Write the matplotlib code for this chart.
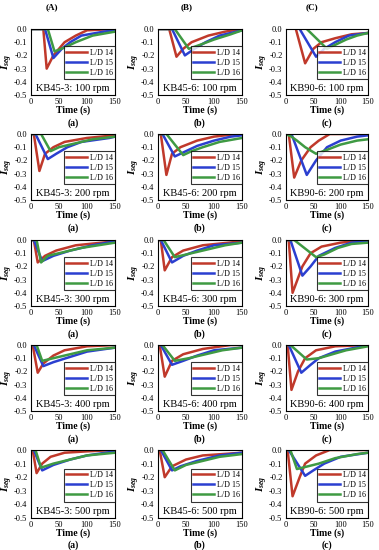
import matplotlib
matplotlib.use('Agg')
import matplotlib.pyplot as plt
from matplotlib.ticker import FormatStrFormatter

plt.rcParams['font.family'] = ['Liberation Serif', 'DejaVu Serif']
plt.rcParams['mathtext.fontset'] = 'custom'
plt.rcParams['mathtext.it'] = 'Liberation Serif:italic:bold'
plt.rcParams['mathtext.rm'] = 'Liberation Serif:bold'

# Данные: ключевые точки (время, I) для L/D 14, 15, 16
labels = ['L/D 14', 'L/D 15', 'L/D 16']
colors = ['#c0392b', '#2b3fd0', '#3f9a43']
mixers = ['KB45-3', 'KB45-6', 'KB90-6']
rpms = [100, 200, 300, 400, 500]

KB45_3_100 = [
    [(0, 0), (22, 0), (28, -0.30), (40, -0.20), (60, -0.10), (80, -0.05), (100, -0.01), (150, 0)],
    [(0, 0), (25, 0), (40, -0.22), (55, -0.15), (70, -0.10), (90, -0.05), (130, -0.02), (150, -0.01)],
    [(0, 0), (30, 0), (42, -0.17), (60, -0.14), (80, -0.10), (110, -0.05), (150, -0.02)],
]
KB45_6_100 = [
    [(0, 0), (20, 0), (33, -0.21), (45, -0.15), (60, -0.10), (90, -0.05), (120, -0.02), (150, 0)],
    [(0, 0), (25, 0), (48, -0.20), (65, -0.15), (85, -0.10), (110, -0.05), (140, -0.02), (150, -0.01)],
    [(0, 0), (30, 0), (55, -0.15), (75, -0.12), (100, -0.08), (130, -0.04), (150, -0.01)],
]
KB90_6_100 = [
    [(18, 0), (35, -0.26), (50, -0.15), (65, -0.10), (90, -0.07), (120, -0.04), (150, -0.03)],
    [(25, 0), (55, -0.21), (70, -0.15), (90, -0.10), (115, -0.05), (150, -0.03)],
    [(38, 0), (75, -0.15), (90, -0.12), (110, -0.08), (130, -0.05), (150, -0.03)],
]
KB45_3_200 = [
    [(0, 0), (5, 0), (15, -0.28), (25, -0.15), (40, -0.10), (60, -0.06), (100, -0.03), (150, -0.01)],
    [(0, 0), (8, 0), (30, -0.19), (45, -0.15), (65, -0.10), (90, -0.06), (140, -0.03), (150, -0.02)],
    [(0, 0), (18, 0), (35, -0.13), (50, -0.10), (80, -0.07), (110, -0.04), (150, -0.02)],
]
KB45_6_200 = [
    [(0, 0), (5, 0), (15, -0.31), (25, -0.15), (40, -0.10), (70, -0.05), (100, -0.02), (140, 0), (150, 0)],
    [(0, 0), (8, 0), (30, -0.17), (50, -0.13), (70, -0.09), (100, -0.05), (130, -0.02), (150, -0.01)],
    [(0, 0), (15, 0), (45, -0.16), (60, -0.13), (80, -0.10), (110, -0.06), (150, -0.03)],
]
KB90_6_200 = [
    [(0, 0), (5, 0), (15, -0.33), (28, -0.20), (45, -0.10), (60, -0.05), (80, 0), (150, 0)],
    [(0, 0), (10, 0), (38, -0.31), (55, -0.20), (75, -0.10), (100, -0.05), (130, -0.02), (150, -0.01)],
    [(0, 0), (10, -0.02), (20, -0.05), (35, -0.10), (55, -0.15), (75, -0.12), (100, -0.08), (130, -0.05), (150, -0.04)],
]
KB45_3_300 = [
    [(0, 0), (5, 0), (12, -0.17), (25, -0.12), (45, -0.08), (80, -0.04), (150, -0.01)],
    [(0, 0), (5, 0), (20, -0.16), (40, -0.12), (70, -0.08), (110, -0.04), (150, -0.01)],
    [(0, 0), (10, 0), (18, -0.17), (30, -0.12), (50, -0.10), (90, -0.06), (150, -0.02)],
]
KB45_6_300 = [
    [(0, 0), (5, 0), (12, -0.23), (25, -0.13), (45, -0.08), (80, -0.04), (150, -0.01)],
    [(0, 0), (5, 0), (25, -0.17), (45, -0.12), (70, -0.08), (100, -0.04), (150, -0.02)],
    [(0, 0), (10, 0), (30, -0.13), (60, -0.10), (90, -0.07), (120, -0.04), (150, -0.02)],
]
KB90_6_300 = [
    [(0, 0), (5, 0), (12, -0.40), (30, -0.20), (45, -0.10), (65, -0.05), (100, -0.02), (150, 0)],
    [(0, 0), (8, 0), (30, -0.27), (45, -0.20), (60, -0.12), (90, -0.06), (120, -0.02), (150, -0.01)],
    [(0, 0), (15, 0), (55, -0.13), (70, -0.11), (95, -0.06), (120, -0.03), (150, -0.02)],
]
KB45_3_400 = [
    [(0, 0), (3, 0), (12, -0.21), (22, -0.14), (40, -0.08), (60, -0.04), (100, -0.01), (150, 0)],
    [(0, 0), (5, 0), (22, -0.16), (40, -0.13), (70, -0.09), (100, -0.05), (150, -0.02)],
    [(0, 0), (10, 0), (20, -0.12), (40, -0.10), (70, -0.07), (100, -0.04), (150, -0.02)],
]
KB45_6_400 = [
    [(0, 0), (3, 0), (12, -0.24), (25, -0.12), (45, -0.07), (80, -0.03), (130, 0), (150, 0)],
    [(0, 0), (5, 0), (25, -0.15), (45, -0.12), (70, -0.08), (100, -0.04), (150, -0.02)],
    [(0, 0), (8, 0), (30, -0.12), (55, -0.10), (85, -0.07), (115, -0.04), (150, -0.02)],
]
KB90_6_400 = [
    [(0, 0), (3, 0), (10, -0.34), (22, -0.20), (35, -0.10), (55, -0.04), (90, -0.01), (150, 0)],
    [(0, 0), (5, 0), (28, -0.21), (45, -0.15), (60, -0.10), (90, -0.05), (140, -0.01), (150, 0)],
    [(0, 0), (8, 0), (38, -0.11), (60, -0.10), (85, -0.07), (110, -0.04), (150, -0.01)],
]
KB45_3_500 = [
    [(0, 0), (3, 0), (10, -0.17), (20, -0.10), (35, -0.05), (60, -0.02), (100, -0.01), (150, 0)],
    [(0, 0), (5, 0), (20, -0.15), (40, -0.11), (70, -0.07), (100, -0.04), (150, -0.01)],
    [(0, 0), (8, 0), (18, -0.13), (40, -0.10), (70, -0.07), (100, -0.04), (150, -0.02)],
]
KB45_6_500 = [
    [(0, 0), (3, 0), (12, -0.20), (25, -0.12), (50, -0.07), (80, -0.04), (150, -0.02)],
    [(0, 0), (5, 0), (25, -0.15), (40, -0.12), (70, -0.08), (110, -0.04), (150, -0.02)],
    [(0, 0), (8, 0), (30, -0.15), (50, -0.11), (80, -0.08), (110, -0.05), (150, -0.03)],
]
KB90_6_500 = [
    [(0, 0), (3, 0), (12, -0.34), (25, -0.20), (35, -0.10), (55, -0.04), (80, 0), (150, 0)],
    [(0, 0), (5, 0), (35, -0.19), (50, -0.15), (70, -0.10), (100, -0.05), (150, -0.02)],
    [(0, 0), (8, 0), (20, -0.14), (40, -0.12), (60, -0.10), (90, -0.06), (130, -0.03), (150, -0.02)],
]

panels = [
    [KB45_3_100, KB45_6_100, KB90_6_100],
    [KB45_3_200, KB45_6_200, KB90_6_200],
    [KB45_3_300, KB45_6_300, KB90_6_300],
    [KB45_3_400, KB45_6_400, KB90_6_400],
    [KB45_3_500, KB45_6_500, KB90_6_500],
]

W, H = 379, 550
fig = plt.figure(figsize=(W / 100, H / 100), dpi=100)

col_left = [31, 158, 286]
col_w = [84, 84, 82]
row_top = [29, 134, 240, 345, 450]
row_h = [66, 66, 66, 66, 68]
sub_y = [123, 228, 334, 439, 545]   # центры подписей (a), (b), (c)
head_x = [52, 187, 312]
sub = ['(a)', '(b)', '(c)']

for j, head in enumerate(['(A)', '(B)', '(C)']):
    fig.text(head_x[j] / W, 1 - 7 / H, head,
             ha='center', va='center', fontsize=6.5, fontweight='bold')

for i in range(5):
    for j in range(3):
        l, b = col_left[j] / W, 1 - (row_top[i] + row_h[i]) / H
        ax = fig.add_axes([l, b, col_w[j] / W, row_h[i] / H])
        for k, curve in enumerate(panels[i][j]):
            t = [p[0] for p in curve]
            v = [p[1] for p in curve]
            ax.plot(t, v, color=colors[k], lw=1.8, label=labels[k])
        ax.set_xlim(0, 150)
        ax.set_ylim(-0.5, 0)
        ax.set_xticks([0, 50, 100, 150])
        ax.set_yticks([0, -0.1, -0.2, -0.3, -0.4, -0.5])
        ax.yaxis.set_major_formatter(FormatStrFormatter('%.1f'))
        ax.tick_params(labelsize=6, length=0, pad=2.5)
        for s in ax.spines.values():
            s.set_linewidth(0.8)
        ax.set_xlabel('Time (s)', fontsize=7, fontweight='bold', labelpad=-1)
        ax.set_ylabel(r'$I_{seg}$', fontsize=8)
        ax.yaxis.set_label_coords(-0.19, 0.5)
        leg = ax.legend(loc='lower right', bbox_to_anchor=(1.0, 0.24), fontsize=5.8,
                        frameon=True, fancybox=False, edgecolor='black',
                        handlelength=2.6, borderpad=0.3, labelspacing=0.25,
                        handletextpad=0.3, borderaxespad=0)
        leg.get_frame().set_linewidth(0.8)
        ax.text(0.5, 0.1, f'{mixers[j]}: {rpms[i]} rpm', transform=ax.transAxes,
                ha='center', va='center', fontsize=7.5)
        fig.text((col_left[j] + col_w[j] / 2) / W, 1 - sub_y[i] / H, sub[j],
                 ha='center', va='center', fontsize=7, fontweight='bold')

plt.savefig('out.png', dpi=100)
